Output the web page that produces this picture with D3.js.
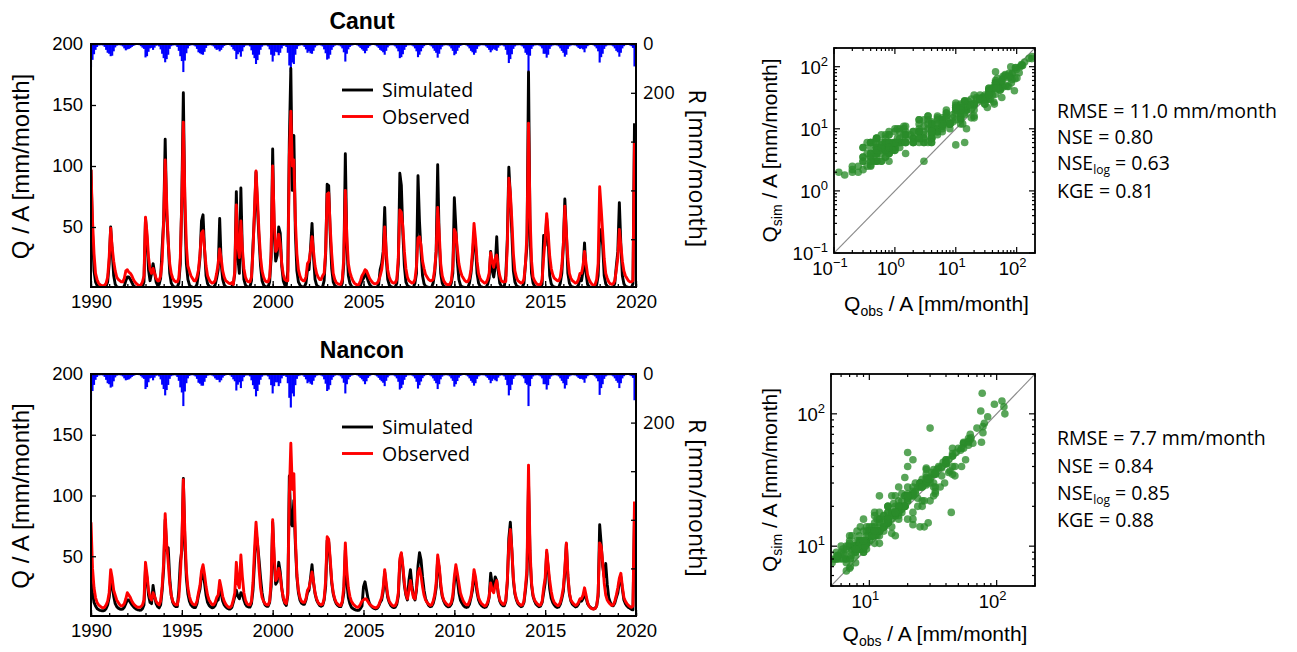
<!DOCTYPE html>
<html><head><meta charset="utf-8">
<script src="https://cdn.jsdelivr.net/npm/d3@7"></script>
<style>body{margin:0;background:#fff}svg{display:block}</style>
</head><body>
<svg id="c" width="1297" height="652"></svg>
<script>
// ---------- DATA (monthly, Jan 1990 - Dec 2019) ----------
const canutObs = [
97,55,28,12,7,4,2.6,2,1.8,2.2,4,9,
25,49,33,22,14,9,7,6,5,5,8,14,
15,13,12,10,7,5,3.5,2.5,2,2.5,5,10,
58,45,25,15,12,16,12,8,6,6,10,22,
55,105,70,38,20,12,8,6,5,5,8,25,
70,136,75,35,18,14,10,8,6,6,9,15,
28,45,47,32,18,10,7,5,4,4.5,6,12,
20,32,24,14,9,6,5,4,3.5,4.5,3,14,
68,35,25,55,32,16,9,6,5,5,9,30,
65,96,72,45,25,14,9,6,5,5,9,30,
100,55,30,32,44,36,20,11,7,6,6,108,
145,100,105,55,28,15,10,7,6,6,9,20,
22,30,42,30,18,12,9,7,7,10,12,30,
77,78,50,28,12,7,4.5,3.5,3,3,7,25,
80,42,20,13,9,6,4,3,2.2,3,6,10,
12,15,14,11,8,6,4.5,3.5,3.5,4,6,10,
15,25,50,30,15,9,6,4.5,4,4.5,7,25,
64,62,50,30,16,9,6,5,4,4.5,7,18,
41,42,35,22,16,11,9,7,6,6,7,15,
30,66,45,20,10,6,4,3,2.5,3,6,18,
48,45,32,20,14,10,8,6,5,5.5,8,15,
30,53,40,22,12,8,6,5,4,4.5,7,12,
29,22,17,24,27,17,10,6,5,5,5.5,35,
90,78,55,28,14,9,6,5,4,4.5,7,20,
45,135,60,22,9,6,4,3,2.5,3,7,25,
40,61,45,26,16,11,8,7,6,6,9,18,
35,67,45,24,12,8,6,5,4,4.5,7,12,
12,18,30,20,11,7,4.5,3,2,3,7,20,
83,65,45,24,12,8,5,3.5,3,3.5,6,15,
25,48,35,22,14,10,8,6,5,5,6,119];
const canutSim = [
97,45,14,5,2,0.8,0.4,0.25,0.15,0.3,1.5,5,
20,50,30,10,3,1,0.5,0.35,0.3,0.5,1.5,6,
9,9,7,4.5,2,0.9,0.4,0.2,0.12,0.25,1,5,
57,40,15,6,12,20,13,5,2,3,8,33,
55,122,60,38,12,4,1.8,0.9,0.6,0.8,4,20,
75,160,65,20,7,2.5,1.2,0.7,0.45,0.6,3,12,
25,55,60,32,10,3.5,1.5,0.8,0.5,0.7,2.5,8,
15,57,20,7,2.5,1,0.5,0.35,0.3,1,3,12,
79,25,12,82,28,7,2.5,1.2,0.7,1,6,35,
60,95,65,40,18,6,2.5,1.2,0.8,1,5,25,
114,45,22,27,50,45,18,6,2.5,2,14,120,
180,80,125,45,14,5,2.5,1.2,0.8,1,4,15,
15,32,53,25,7,2.5,1.2,0.7,0.5,1,6,28,
85,84,45,16,5,2,1,0.7,0.5,0.6,4,20,
110,35,10,4,1.5,0.7,0.45,0.3,0.2,0.4,2,6,
8,12,10,6,3,1.3,0.6,0.4,0.3,0.6,3,15,
20,30,66,25,7,2.5,1.2,0.7,0.5,0.8,4,20,
94,84,45,18,5,2,1,0.7,0.5,0.7,4,12,
92,54,30,10,3.5,1.5,0.8,0.5,0.4,0.7,4,12,
30,101,40,12,4,1.5,0.8,0.5,0.35,0.6,4,12,
74,50,22,7,2.5,1.1,0.6,0.4,0.3,0.6,4,12,
25,45,35,12,4,1.5,0.8,0.5,0.4,0.7,3,8,
30,14,9,17,42,14,4,1.5,0.8,1.2,10,40,
99,75,45,14,5,2,1,0.7,0.5,0.9,4,20,
35,177,45,12,4,1.5,0.8,0.5,0.4,0.8,3,43,
35,57,40,10,3.5,1.4,0.8,0.5,0.4,0.7,4,12,
35,73,45,12,4,1.5,0.8,0.5,0.4,0.7,2.5,8,
6,14,37,12,3,1.1,0.5,0.3,0.2,0.45,2.5,10,
45,48,35,10,3.5,1.4,0.8,0.5,0.4,0.7,4,18,
30,70,35,10,3.5,1.4,0.8,0.5,0.4,0.6,3.5,135];
const canutRain = [
95,65,42,24,12,6,5,5,6,12,24,36,
40,50,48,30,14,7,5,5,6,10,18,26,
22,20,17,12,8,5,4,4,5,9,15,20,
55,50,32,18,16,24,15,7,6,10,22,40,
58,75,62,44,20,9,6,5,6,12,28,50,
70,115,68,38,18,8,5,5,6,10,20,34,
38,42,44,32,16,7,5,5,6,10,18,24,
22,30,24,15,8,5,4,4,6,12,22,28,
62,42,34,52,30,13,7,5,6,10,26,44,
58,82,66,44,24,11,6,5,6,10,22,44,
72,48,32,34,46,36,18,8,7,12,36,88,
115,76,82,44,20,9,6,5,6,12,22,36,
30,38,40,28,14,7,5,5,6,10,22,38,
64,60,44,24,13,7,5,5,6,10,18,34,
72,40,22,12,7,5,4,4,6,10,16,22,
28,38,28,16,9,5,4,4,6,10,16,24,
28,34,44,28,14,7,5,5,6,10,18,30,
58,54,42,24,12,6,5,5,6,10,18,30,
54,44,30,17,9,5,4,4,6,10,18,28,
36,56,40,22,11,6,5,5,6,10,18,28,
46,40,28,15,8,5,4,4,6,10,18,28,
34,44,36,20,10,6,5,5,6,10,16,24,
34,26,20,24,28,15,7,5,6,10,24,44,
78,62,42,20,10,6,5,5,6,10,18,36,
44,112,48,20,10,6,5,5,6,10,18,40,
40,56,44,20,10,6,5,5,6,10,18,28,
36,52,44,20,10,6,5,5,6,10,16,20,
18,22,34,18,9,5,4,4,6,10,18,30,
76,54,40,20,10,6,5,5,6,10,18,28,
34,52,36,18,9,5,4,4,6,9,16,92];
const nanconObs = [
78,40,24,16,12,10,9,8,7.5,8,10,13,
20,39,32,22,18,14,12,10,9,9.5,11,15,
20,18,16,13,11,9.5,8.5,8,8,8.5,10,14,
45,35,22,16,14,20,17,13,11,10,13,25,
45,85,60,45,28,18,13,11,10,10,16,35,
60,113,70,38,24,17,13,11,10,10,13,20,
26,38,43,35,25,18,14,12,10,10,12,16,
18,30,24,17,13,10.5,9,8,8,9.5,14,20,
45,28,24,51,33,20,14,11,10,10,13,28,
55,78,62,40,24,16,13,11,10,10,13,30,
80,50,30,32,40,34,23,16,12,11,20,100,
143,105,118,65,35,22,16,13,12,12,15,22,
24,30,37,29,20,15,12,10.5,10,10.5,15,30,
66,64,48,30,20,15,12,10.5,9.5,9.5,13,25,
61,38,24,17,13,11,9.5,8.5,8,8.5,10.5,13,
14,15,14.5,12.5,10.5,9.5,8.5,8,7.5,8,9.5,13,
16,24,39,28,18,13,11,9.5,9,9.5,12,20,
48,53,42,28,19,15,22,30,22,16,15,24,
36,40,34,25,18,14,12,10.5,9.5,10,13,18,
28,51,42,28,18,14,12,10.5,9.5,10,12,18,
33,43,36,28,20,16,13,11,10,10,13,17,
26,39,33,23,16,13,11,10,9,9.5,12,17,
28,22,20,26,30,20,14,12,10.5,10.5,14,30,
60,72,55,32,20,15,12,10.5,9.5,10,13,25,
40,125,55,28,18,14,12,10.5,9.5,10,13,24,
32,55,42,30,21,15,12,10.5,9.5,9.5,12,17,
24,40,61,35,20,14,12,10.5,9.5,10,12,15,
15,18,24,18,12,9,7.5,6.8,6.5,7,9,20,
61,58,45,28,18,14,12,10.5,9.5,10,13,18,
24,32,36,25,16,13,11,9.5,8.5,8,9,95];
const nanconSim = [
30,20,12,9,7,6,5.5,5.2,5.1,5.5,7,10,
16,28,26,17,11,8.5,7.3,6.6,6.3,6.6,8,11,
14,14,12,10,8.5,7.3,6.4,5.9,5.6,5.7,6.8,10,
40,32,18,12,11,26,17,11,8.5,7.5,10,22,
40,80,55,57,32,18,12,9.5,8.5,8.5,22,45,
55,114,62,32,19,13,10,8.5,7.8,7.8,11,18,
23,34,38,28,18,12,9.5,8.3,7.6,8,9.5,13,
14,25,19,13,10,8.3,7.2,6.6,6.5,7.8,12,17,
22,17,15,20,19,14,10.5,8.8,8.2,8.2,11,22,
45,70,60,47,32,20,13,10,8.8,8.8,12,25,
78,45,27,29,45,37,24,15,11,9.5,18,116,
77,75,96,60,33,20,14,11.5,10.5,10.5,14,20,
22,32,43,28,19,14,11.5,9.5,8.8,9.5,14,25,
63,62,45,28,19,14,11,9.5,8.5,8.5,12,20,
55,28,16,11,8,7,6.2,5.7,5.4,5.6,7,9,
25,29,22,15,11,9,7.8,7.1,6.6,7.1,8.8,12,
14,21,37,25,16,12,9.5,8.3,7.7,8.2,10.5,17,
45,52,40,26,18,14,30,39,26,17,14,22,
42,53,47,33,22,15,12,9.5,8.5,8.8,11,16,
24,48,40,25,17,13,10.5,9,8.3,8.8,10.5,15,
28,40,31,20,14,11.5,9.5,8.3,7.8,8.3,10.5,16,
22,35,30,20,14,11,9.3,8.3,7.8,8.3,10.5,16,
36,27,24,33,30,19,13,10.5,9.3,9.3,13,28,
65,78,55,30,19,14,11,9.5,8.5,9,12,22,
35,110,50,26,17,13,10.5,9.3,8.5,9,12,20,
28,53,40,23,15.5,12,9.8,8.5,7.8,8.3,10.5,15,
21,37,60,33,19,13,10.5,9.3,8.3,8.8,10.5,14,
13,15,20,16,11,9,7.8,7,6.6,7.1,9,17,
76,60,42,33,44,27,16,12,9.5,9.3,11.5,16,
20,29,33,23,14,11,9,7.8,7.2,6.2,6,85];
const nanconRain = [
108,70,45,24,12,6,5,5,6,12,24,38,
42,56,52,30,14,7,5,5,6,10,18,26,
24,22,18,12,8,5,4,4,5,9,15,20,
62,54,34,18,16,26,15,7,6,10,22,44,
62,88,66,45,20,9,6,5,6,12,28,55,
76,132,72,38,18,8,5,5,6,10,20,36,
40,48,48,32,16,7,5,5,6,10,18,24,
24,34,26,15,8,5,4,4,6,12,22,30,
68,44,34,58,30,13,7,5,6,10,26,46,
62,92,70,44,24,11,6,5,6,10,22,46,
80,50,34,34,50,38,18,8,7,12,38,98,
138,80,92,46,20,9,6,5,6,12,22,38,
32,40,44,28,14,7,5,5,6,10,22,40,
70,64,46,24,13,7,5,5,6,10,18,36,
80,42,22,12,7,5,4,4,6,10,16,22,
30,42,30,16,9,5,4,4,6,10,16,24,
30,36,50,28,14,7,5,5,6,10,18,32,
64,58,44,24,12,6,5,5,6,10,18,32,
60,46,31,17,9,5,4,4,6,10,18,28,
38,62,42,22,11,6,5,5,6,10,18,28,
52,42,29,15,8,5,4,4,6,10,18,28,
36,48,38,20,10,6,5,5,6,10,16,24,
38,28,20,26,30,15,7,5,6,10,24,46,
88,66,44,20,10,6,5,5,6,10,18,38,
44,132,50,20,10,6,5,5,6,10,18,42,
42,64,46,20,10,6,5,5,6,10,18,28,
38,60,46,20,10,6,5,5,6,10,16,20,
20,23,36,18,9,5,4,4,6,10,18,30,
86,58,42,20,10,6,5,5,6,10,18,28,
36,58,38,18,9,5,4,4,6,9,16,108];

const yearTicks = [1990,1995,2000,2005,2010,2015,2020];
const qTicks = [50,100,150,200];
const rTicks = [0,200,400,600,800];
const rLabels = [0,200];
const legendLabels = ["Simulated","Observed"];
const canutStats = ["RMSE = 11.0 mm/month","NSE = 0.80","NSE|log| = 0.63","KGE = 0.81"];
const nanconStats = ["RMSE = 7.7 mm/month","NSE = 0.84","NSE|log| = 0.85","KGE = 0.88"];

// ---------- DRAW ----------
const svg = d3.select('#c');
const AX = "'Liberation Sans', Arial, sans-serif";
const MY = "'Open Sans', sans-serif";
const x = d3.scaleLinear().domain([1990,2020]).range([91,636]);

function tsPanel(p){
  const g = svg.append('g');
  const y = d3.scaleLinear().domain([0,200]).range([p.bottom+1, p.top]);
  const r = d3.scaleLinear().domain([0,1000]).range([p.top, p.bottom+1]);
  const t = p.obs.map((d,i)=>1990+i/12);
  const cid = 'clip'+p.id;
  svg.append('clipPath').attr('id',cid).append('rect')
    .attr('x',91).attr('y',p.top).attr('width',545).attr('height',p.bottom-p.top);
  const inner = g.append('g').attr('clip-path',`url(#${cid})`);
  const mw = x(1990+1/12)-x(1990);
  inner.selectAll('rect.rain').data(p.rain).join('rect').attr('class','rain')
    .attr('x',(d,i)=>x(t[i])-mw/2-0.3).attr('width',mw+0.6)
    .attr('y',p.top).attr('height',d=>r(d)-p.top).attr('fill','#0000ff');
  const line = d3.line().x((d,i)=>x(t[i])).y(d=>y(d));
  inner.append('path').datum(p.sim).attr('d',line).attr('fill','none')
    .attr('stroke','#000').attr('stroke-width',2.9).attr('stroke-linejoin','round');
  inner.append('path').datum(p.obs).attr('d',line).attr('fill','none')
    .attr('stroke','#ff0000').attr('stroke-width',2.9).attr('stroke-linejoin','round');

  const bx = g.append('g').attr('transform',`translate(0,${p.bottom})`)
    .call(d3.axisBottom(x).tickValues(yearTicks).tickFormat(d3.format('d')).tickSize(-6).tickPadding(8));
  bx.select('.domain').remove();
  bx.selectAll('text').attr('font-family',AX).attr('font-size',18.5).attr('fill','#000');
  const bm = g.append('g').attr('transform',`translate(0,${p.bottom})`)
    .call(d3.axisBottom(x).tickValues(d3.range(1990,2021)).tickFormat('').tickSize(-3));
  bm.select('.domain').remove();
  const ly = g.append('g').attr('transform','translate(91,0)')
    .call(d3.axisLeft(y).tickValues(qTicks).tickSize(-5).tickPadding(8));
  ly.select('.domain').remove();
  ly.selectAll('text').attr('font-family',AX).attr('font-size',18.5).attr('fill','#000');
  const ry = g.append('g').attr('transform','translate(636,0)')
    .call(d3.axisRight(r).tickValues(rTicks).tickSize(-5).tickPadding(7)
      .tickFormat(d=>rLabels.includes(d)?d:''));
  ry.select('.domain').remove();
  ry.selectAll('text').attr('font-family',MY).attr('font-size',18.5).attr('fill','#000');
  g.selectAll('.tick line').attr('stroke','#000').attr('stroke-width',1.3);

  g.append('rect').attr('x',91).attr('y',p.top).attr('width',545).attr('height',p.bottom-p.top)
    .attr('fill','none').attr('stroke','#000').attr('stroke-width',2);

  g.append('text').attr('x',362).attr('y',p.titleY).attr('text-anchor','middle')
    .attr('font-family',AX).attr('font-weight','bold').attr('font-size',23).text(p.title);
  const mid = (p.top+p.bottom)/2;
  g.append('text').attr('transform',`translate(29,${mid+1}) rotate(-90)`).attr('text-anchor','middle')
    .attr('font-family',AX).attr('font-size',24).text('Q / A [mm/month]');
  g.append('text').attr('transform',`translate(689,${mid+3}) rotate(90)`).attr('text-anchor','middle')
    .attr('font-family',MY).attr('font-size',23).text('R [mm/month]');

  const cols = ['#000','#ff0000'];
  legendLabels.forEach((lab,i)=>{
    const yy = p.legendY + i*26.5;
    g.append('line').attr('x1',342).attr('x2',373).attr('y1',yy).attr('y2',yy)
      .attr('stroke',cols[i]).attr('stroke-width',2.9);
    g.append('text').attr('x',382).attr('y',yy+7).attr('font-family',MY).attr('font-size',19.5).text(lab);
  });
}

function pow10(sel, e){
  sel.append('tspan').text('10');
  sel.append('tspan').attr('font-size',13).attr('dy',-8).text(e<0?'\u2212'+(-e):e);
}

function scatter(s){
  const g = svg.append('g');
  const sx = d3.scaleLog().domain(s.dom).range([s.left,s.right]);
  const sy = d3.scaleLog().domain(s.dom).range([s.bottom,s.top]);
  const pts = s.sim.map((d,i)=>[d, s.obs[i]]).filter(p=>p[0]>=s.dom[0]&&p[1]>=s.dom[0]&&p[0]<=s.dom[1]&&p[1]<=s.dom[1]);
  const cid = 'sc'+s.id;
  svg.append('clipPath').attr('id',cid).append('rect')
    .attr('x',s.left).attr('y',s.top).attr('width',s.right-s.left).attr('height',s.bottom-s.top);
  const inner = g.append('g').attr('clip-path',`url(#${cid})`);
  inner.append('line').attr('x1',sx(s.dom[0])).attr('y1',sy(s.dom[0])).attr('x2',sx(s.dom[1])).attr('y2',sy(s.dom[1]))
    .attr('stroke','#8a8a8a').attr('stroke-width',1.2);
  inner.selectAll('circle').data(pts).join('circle')
    .attr('cx',d=>sx(d[0])).attr('cy',d=>sy(d[1])).attr('r',3.8)
    .attr('fill','#2a8c2a').attr('fill-opacity',0.78);
  const tv = [];
  for(let k=Math.floor(Math.log10(s.dom[0])); k<=Math.ceil(Math.log10(s.dom[1])); k++)
    for(let m=1;m<=9;m++){ const v=m*Math.pow(10,k); if(v>=s.dom[0]&&v<=s.dom[1]) tv.push({v, major:m===1, k}); }
  const tk = g.append('g');
  tv.forEach(o=>{
    const L = o.major?6:3;
    const X = sx(o.v), Y = sy(o.v);
    tk.append('line').attr('x1',X).attr('x2',X).attr('y1',s.bottom).attr('y2',s.bottom-L);
    tk.append('line').attr('x1',X).attr('x2',X).attr('y1',s.top).attr('y2',s.top+L);
    tk.append('line').attr('y1',Y).attr('y2',Y).attr('x1',s.left).attr('x2',s.left+L);
    tk.append('line').attr('y1',Y).attr('y2',Y).attr('x1',s.right).attr('x2',s.right-L);
  });
  tk.selectAll('line').attr('stroke','#000').attr('stroke-width',1.2);
  tv.filter(o=>o.major).forEach(o=>{
    const xt = g.append('text').attr('x',sx(o.v)-4).attr('y',s.bottom+22).attr('text-anchor','middle')
      .attr('font-family',AX).attr('font-size',18.5);
    pow10(xt,o.k);
    const yt = g.append('text').attr('x',s.left-6).attr('y',sy(o.v)+7).attr('text-anchor','end')
      .attr('font-family',AX).attr('font-size',18.5);
    pow10(yt,o.k);
  });
  g.append('rect').attr('x',s.left).attr('y',s.top).attr('width',s.right-s.left).attr('height',s.bottom-s.top)
    .attr('fill','none').attr('stroke','#000').attr('stroke-width',1.8);
  const xl = g.append('text').attr('x',(s.left+s.right)/2+2).attr('y',s.xlabY).attr('text-anchor','middle')
    .attr('font-family',AX).attr('font-size',21);
  xl.append('tspan').text('Q');
  xl.append('tspan').attr('font-size',14).attr('dy',5).text('obs');
  xl.append('tspan').attr('dy',-5).text(' / A [mm/month]');
  const yl = g.append('text').attr('transform',`translate(${s.ylabX},${(s.top+s.bottom)/2}) rotate(-90)`)
    .attr('text-anchor','middle').attr('font-family',AX).attr('font-size',21);
  yl.append('tspan').text('Q');
  yl.append('tspan').attr('font-size',14).attr('dy',5).text('sim');
  yl.append('tspan').attr('dy',-5).text(' / A [mm/month]');
  s.stats.forEach((str,i)=>{
    const t = g.append('text').attr('x',1057).attr('y',s.statY[i]).attr('font-family',MY).attr('font-size',19.5);
    const parts = str.split('|');
    if(parts.length===3){
      t.append('tspan').text(parts[0]);
      t.append('tspan').attr('font-size',12).attr('dy',4).text(parts[1]);
      t.append('tspan').attr('dy',-4).text(parts[2]);
    } else t.text(str);
  });
}

tsPanel({id:'a', title:'Canut', titleY:29, top:44, bottom:287, obs:canutObs, sim:canutSim, rain:canutRain, legendY:90});
tsPanel({id:'b', title:'Nancon', titleY:358, top:374, bottom:616, obs:nanconObs, sim:nanconSim, rain:nanconRain, legendY:427});
scatter({id:'a', dom:[0.1,200], left:834, right:1035, top:48, bottom:253, sim:canutSim, obs:canutObs,
  xlabY:311, ylabX:777, stats:canutStats, statY:[118,144,170,198]});
scatter({id:'b', dom:[5,200], left:831, right:1035, top:374, bottom:586, sim:nanconSim, obs:nanconObs,
  xlabY:641, ylabX:777, stats:nanconStats, statY:[445,473,500,527]});
</script>
</body></html>
